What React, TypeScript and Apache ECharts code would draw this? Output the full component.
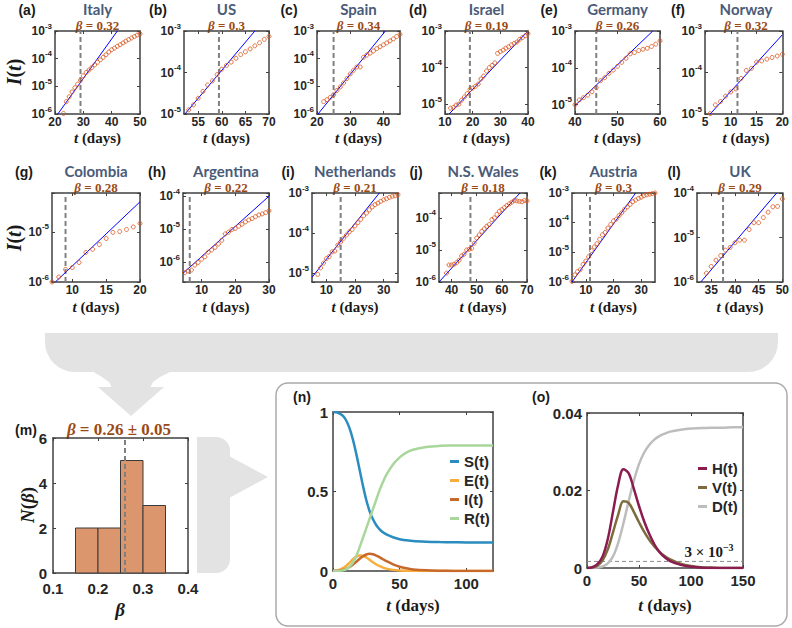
import { useEffect, useRef } from "react";
import * as echarts from "echarts";

// ---------------- country data (t in days, I(t) fraction) ----------------
const italyT = [23, 24, 25, 26, 27, 28, 29, 30, 31, 32, 33, 34, 35, 36, 37, 38, 39, 40, 41, 42, 43, 44, 45, 46, 47, 48, 49, 50];
const italyI = [1.05e-6, 2.8e-6, 4.2e-6, 6.3e-6, 8.9e-6, 1.2e-5, 1.66e-5, 2.4e-5, 3.16e-5, 3.9e-5, 4.8e-5, 6.0e-5, 7.4e-5, 9.1e-5, 1.12e-4, 1.38e-4, 1.74e-4, 2.1e-4, 2.4e-4, 2.8e-4, 3.2e-4, 3.7e-4, 4.3e-4, 4.9e-4, 5.6e-4, 6.3e-4, 7.1e-4, 7.9e-4];
const italyFit = [[21, 1e-6], [42, 1e-3]];

const usT = [53, 54, 55, 56, 57, 58, 59, 60, 61, 62, 63, 64, 65, 66, 67, 68, 69, 70];
const usI = [1.26e-5, 1.66e-5, 2.4e-5, 3.5e-5, 5.0e-5, 6.3e-5, 8.9e-5, 1.2e-4, 1.48e-4, 1.78e-4, 2.2e-4, 2.7e-4, 3.16e-4, 3.7e-4, 4.4e-4, 5.2e-4, 6.3e-4, 7.4e-4];
const usFit = [[52.2, 1e-5], [67, 1e-3]];

const spainT = [22, 23, 24, 25, 26, 27, 28, 29, 30, 31, 32, 33, 34, 35, 36, 37, 38, 39, 40, 41, 42, 43, 44, 45];
const spainI = [2.8e-6, 3.3e-6, 4.0e-6, 5.0e-6, 7.1e-6, 9.5e-6, 1.32e-5, 1.9e-5, 2.8e-5, 3.8e-5, 5.0e-5, 5.0e-5, 1.12e-4, 1.35e-4, 1.58e-4, 1.9e-4, 2.3e-4, 2.7e-4, 3.16e-4, 3.7e-4, 4.4e-4, 5.2e-4, 6.3e-4, 7.6e-4];
const spainFit = [[20.3, 1e-6], [40.6, 1e-3]];

const israelT = [12, 13, 14, 15, 16, 17, 18, 19, 20, 21, 22, 23, 24, 25, 26, 27, 28, 29, 30, 31, 32, 33, 34, 35, 36, 37, 38, 39, 40];
const israelI = [7.8e-6, 8.1e-6, 9.5e-6, 1.0e-5, 1.29e-5, 1.58e-5, 1.95e-5, 2.5e-5, 2.75e-5, 3.1e-5, 3.55e-5, 4.9e-5, 5.9e-5, 8.1e-5, 1.0e-4, 1.15e-4, 1.35e-4, 2.45e-4, 2.75e-4, 3.0e-4, 3.4e-4, 3.7e-4, 4.2e-4, 4.6e-4, 5.0e-4, 5.9e-4, 6.6e-4, 7.4e-4, 8.5e-4];
const israelFit = [[11.5, 5.4e-6], [40, 1e-3]];

const germanyT = [40, 41, 42, 43, 44, 45, 46, 47, 48, 49, 50, 51, 52, 53, 54, 55, 56, 57, 58, 59, 60];
const germanyI = [1.0e-5, 1.35e-5, 1.55e-5, 1.82e-5, 2.24e-5, 2.9e-5, 4.5e-5, 5.4e-5, 7.1e-5, 8.7e-5, 1.1e-4, 1.41e-4, 1.82e-4, 2.4e-4, 2.6e-4, 2.95e-4, 3.2e-4, 3.4e-4, 3.8e-4, 4.4e-4, 5.4e-4];
const germanyFit = [[40, 9.5e-6], [58.3, 1e-3]];

const norwayT = [6, 7, 8, 9, 10, 11, 12, 13, 14, 15, 16, 17, 18, 19, 20];
const norwayI = [1.02e-5, 1.66e-5, 2.0e-5, 2.7e-5, 3.4e-5, 4.0e-5, 7.2e-5, 1.12e-4, 1.26e-4, 1.78e-4, 1.9e-4, 2.1e-4, 2.3e-4, 2.5e-4, 2.75e-4];
const norwayFit = [[6, 1e-5], [20, 8.1e-4]];

const colombiaT = [7, 8, 9, 10, 11, 12, 13, 14, 15, 16, 17, 18, 19, 20];
const colombiaI = [1.0e-6, 1.26e-6, 1.78e-6, 1.95e-6, 2.45e-6, 3.9e-6, 4.5e-6, 5.6e-6, 7.4e-6, 9.8e-6, 1.02e-5, 1.12e-5, 1.26e-5, 1.48e-5];
const colombiaFit = [[7.5, 1e-6], [20, 4e-5]];

const argentinaT = [5, 6, 7, 8, 9, 10, 11, 12, 13, 14, 15, 16, 17, 18, 19, 20, 21, 22, 23, 24, 25, 26, 27, 28, 29, 30];
const argentinaI = [4.8e-7, 5.4e-7, 5.75e-7, 8.1e-7, 9.8e-7, 1.23e-6, 1.45e-6, 2.0e-6, 2.35e-6, 2.8e-6, 3.55e-6, 4.6e-6, 7.2e-6, 8.1e-6, 9.8e-6, 1.05e-5, 1.23e-5, 1.41e-5, 1.66e-5, 1.9e-5, 2.1e-5, 2.4e-5, 2.7e-5, 2.9e-5, 3.16e-5, 3.6e-5];
const argentinaFit = [[4.5, 4.6e-7], [30, 1.0e-4]];

const netherlandsT = [7, 8, 9, 10, 11, 12, 13, 14, 15, 16, 17, 18, 19, 20, 21, 22, 23, 24, 25, 26, 27, 28, 29, 30, 31, 32, 33, 34, 35];
const netherlandsI = [9.3e-6, 1.35e-5, 1.78e-5, 2.3e-5, 2.6e-5, 3.4e-5, 3.55e-5, 5.0e-5, 6.0e-5, 7.4e-5, 8.9e-5, 1.07e-4, 1.23e-4, 1.51e-4, 1.82e-4, 2.2e-4, 2.7e-4, 3.16e-4, 3.8e-4, 4.5e-4, 5.1e-4, 5.6e-4, 6.2e-4, 6.8e-4, 7.2e-4, 7.8e-4, 8.3e-4, 8.5e-4, 9.1e-4];
const netherlandsFit = [[5, 7.9e-6], [28.5, 1e-3]];

const nswT = [38, 39, 40, 41, 42, 43, 44, 45, 46, 47, 48, 49, 50, 51, 52, 53, 54, 55, 56, 57, 58, 59, 60, 61, 62, 63, 64, 65, 66, 67, 68, 69, 70];
const nswI = [1.9e-6, 3.4e-6, 3.4e-6, 3.6e-6, 4.0e-6, 4.8e-6, 6.5e-6, 7.4e-6, 1.0e-5, 1.05e-5, 1.12e-5, 1.62e-5, 2.35e-5, 2.95e-5, 3.8e-5, 4.6e-5, 5.5e-5, 6.2e-5, 8.9e-5, 1.0e-4, 1.29e-4, 1.62e-4, 1.82e-4, 2.1e-4, 2.45e-4, 2.75e-4, 3.1e-4, 3.55e-4, 3.4e-4, 3.3e-4, 3.2e-4, 3.5e-4, 3.4e-4];
const nswFit = [[35, 1e-6], [67.2, 6e-4]];

const austriaT = [5, 6, 7, 8, 9, 10, 11, 12, 13, 14, 15, 16, 17, 18, 19, 20, 21, 22, 23, 24, 25, 26, 27, 28, 29, 30, 31, 32, 33, 34, 35];
const austriaI = [1.05e-6, 1.74e-6, 2.24e-6, 2.6e-6, 3.9e-6, 5.1e-6, 7.1e-6, 1.15e-5, 1.51e-5, 1.95e-5, 2.75e-5, 3.9e-5, 4.7e-5, 6.6e-5, 8.7e-5, 1.15e-4, 1.32e-4, 1.74e-4, 2.15e-4, 2.8e-4, 3.4e-4, 4.1e-4, 5.1e-4, 5.75e-4, 6.6e-4, 7.2e-4, 8.1e-4, 8.7e-4, 9.1e-4, 9.5e-4, 1.0e-3];
const austriaFit = [[5, 1e-6], [28, 1e-3]];

const ukT = [34, 35, 36, 37, 38, 39, 40, 41, 42, 43, 44, 45, 46, 47, 48, 49, 50];
const ukI = [1.58e-6, 2.24e-6, 3.1e-6, 3.9e-6, 5.2e-6, 6.0e-6, 7.6e-6, 8.7e-6, 8.7e-6, 1.51e-5, 2.15e-5, 2.15e-5, 2.8e-5, 3.7e-5, 4.9e-5, 5.0e-5, 7.4e-5];
const ukFit = [[32.8, 1e-6], [48.8, 1e-4]];

const countries = [
  { tag: "(a)", name: "Italy", beta: "0.32", t: italyT, I: italyI, fit: italyFit, dash: 29, xRange: [20, 50], xTicks: [20, 30, 40, 50], yRange: [1e-6, 1e-3] },
  { tag: "(b)", name: "US", beta: "0.3", t: usT, I: usI, fit: usFit, dash: 59.4, xRange: [52, 70], xTicks: [55, 60, 65, 70], yRange: [1e-5, 1e-3] },
  { tag: "(c)", name: "Spain", beta: "0.34", t: spainT, I: spainI, fit: spainFit, dash: 25, xRange: [20, 45], xTicks: [20, 30, 40], yRange: [1e-6, 1e-3] },
  { tag: "(d)", name: "Israel", beta: "0.19", t: israelT, I: israelI, fit: israelFit, dash: 19, xRange: [10, 40], xTicks: [10, 20, 30, 40], yRange: [5.4e-6, 1e-3] },
  { tag: "(e)", name: "Germany", beta: "0.26", t: germanyT, I: germanyI, fit: germanyFit, dash: 45, xRange: [40, 60], xTicks: [40, 50, 60], yRange: [5.6e-6, 1e-3] },
  { tag: "(f)", name: "Norway", beta: "0.32", t: norwayT, I: norwayI, fit: norwayFit, dash: 11.3, xRange: [5, 20], xTicks: [5, 10, 15, 20], yRange: [1e-5, 1e-3] },
  { tag: "(g)", name: "Colombia", beta: "0.28", t: colombiaT, I: colombiaI, fit: colombiaFit, dash: 9, xRange: [7, 20], xTicks: [10, 15, 20], yRange: [1e-6, 6e-5] },
  { tag: "(h)", name: "Argentina", beta: "0.22", t: argentinaT, I: argentinaI, fit: argentinaFit, dash: 6.5, xRange: [4.5, 30], xTicks: [10, 20, 30], yRange: [2.5e-7, 1.25e-4] },
  { tag: "(i)", name: "Netherlands", beta: "0.21", t: netherlandsT, I: netherlandsI, fit: netherlandsFit, dash: 15, xRange: [5, 35], xTicks: [10, 20, 30], yRange: [6e-6, 1e-3] },
  { tag: "(j)", name: "N.S. Wales", beta: "0.18", t: nswT, I: nswI, fit: nswFit, dash: 47.5, xRange: [35, 70], xTicks: [40, 50, 60, 70], yRange: [1e-6, 6e-4] },
  { tag: "(k)", name: "Austria", beta: "0.3", t: austriaT, I: austriaI, fit: austriaFit, dash: 11.5, xRange: [5, 35], xTicks: [10, 20, 30], yRange: [1e-6, 1e-3] },
  { tag: "(l)", name: "UK", beta: "0.29", t: ukT, I: ukI, fit: ukFit, dash: 37.5, xRange: [32, 50], xTicks: [35, 40, 45, 50], yRange: [1e-6, 1e-4] },
];

// ---------------- histogram of beta ----------------
const histLo = [0.15, 0.2, 0.25, 0.3];
const histHi = [0.2, 0.25, 0.3, 0.35];
const histN = [2, 2, 5, 3];
const betaMean = 0.26;
const betaMeanText = "0.26 ± 0.05";
const histXTicks = [0.1, 0.2, 0.3, 0.4];
const histYTicks = [0, 2, 4, 6];

// ---------------- model curves (n) ----------------
const seirT = [0, 2.5, 5, 7.5, 10, 12.5, 15, 17.5, 20, 22.5, 25, 27.5, 30, 32.5, 35, 37.5, 40, 45, 50, 55, 60, 70, 80, 90, 100, 110, 120];
const seirS = [1, 0.998, 0.99, 0.975, 0.945, 0.895, 0.825, 0.735, 0.635, 0.535, 0.445, 0.375, 0.325, 0.288, 0.262, 0.243, 0.23, 0.212, 0.2, 0.193, 0.188, 0.184, 0.182, 0.181, 0.18, 0.18, 0.18];
const seirE = [0, 0.003, 0.008, 0.018, 0.033, 0.053, 0.074, 0.09, 0.098, 0.096, 0.085, 0.07, 0.055, 0.041, 0.03, 0.021, 0.015, 0.007, 0.003, 0.0015, 0.0007, 0.0001, 0, 0, 0, 0, 0];
const seirI = [0, 0.001, 0.003, 0.007, 0.014, 0.025, 0.04, 0.058, 0.077, 0.093, 0.104, 0.108, 0.105, 0.097, 0.086, 0.074, 0.062, 0.042, 0.027, 0.017, 0.01, 0.004, 0.0015, 0.0005, 0.0002, 0.0001, 0];
const seirR = [0, 0, 0.001, 0.004, 0.012, 0.028, 0.055, 0.095, 0.15, 0.21, 0.27, 0.33, 0.39, 0.45, 0.51, 0.56, 0.605, 0.67, 0.715, 0.745, 0.763, 0.78, 0.787, 0.789, 0.79, 0.79, 0.79];
const nXTicks = [0, 50, 100];
const nYTicks = [0, 0.5, 1];

// ---------------- model curves (o) ----------------
const hvdT = [0, 5, 10, 15, 20, 25, 30, 35, 40, 45, 50, 55, 60, 65, 70, 75, 80, 90, 100, 110, 120, 130, 140, 150];
const hvdH = [0, 0.0002, 0.001, 0.003, 0.0075, 0.0145, 0.0215, 0.0255, 0.0245, 0.0205, 0.016, 0.012, 0.0087, 0.006, 0.004, 0.0027, 0.0018, 0.0008, 0.0003, 0.0001, 0, 0, 0, 0];
const hvdV = [0, 0.0001, 0.0006, 0.002, 0.0048, 0.0092, 0.0138, 0.0172, 0.0168, 0.0145, 0.0118, 0.0093, 0.0072, 0.0055, 0.0041, 0.003, 0.0022, 0.0011, 0.0005, 0.0002, 0.0001, 0, 0, 0];
const hvdD = [0, 0, 0.0001, 0.0004, 0.0012, 0.003, 0.0065, 0.0115, 0.0172, 0.0225, 0.0268, 0.0298, 0.0318, 0.0332, 0.0341, 0.0347, 0.0352, 0.0357, 0.036, 0.0361, 0.0362, 0.0362, 0.0363, 0.0363];
const hvdThreshold = 0.0017;
const oXTicks = [0, 50, 100, 150];
const oYTicks = [0, 0.02, 0.04];

// ---------------- layout / style ----------------
const ROW_TOP = [31, 193];
const ROW_H = [83, 89];
const COL_LR = [
  [[55, 140], [184, 269], [317, 400], [445, 528], [575, 660], [705, 787]],
  [[52, 140], [183, 269], [312, 398], [439, 527], [572, 655], [697, 783]],
];
const TAG_X = [[27, 158, 289, 418, 549, 678], [24, 157, 288, 416, 548, 674]];
const TAG_Y = [10, 172];
const TITLE_Y = [9, 171];
const BETA_Y = [25, 187];
const XLABEL_Y = [138, 307];
const YLABEL_Y = [72, 238];

const SANS = "'Liberation Sans', Arial, sans-serif";
const SERIF = "'Liberation Serif', 'Times New Roman', serif";
const TITLE_FONT = "Lato, 'Open Sans', sans-serif";
const AX = "#404040";
const LABEL = "#262626";
const BROWN = "#9A4A14";
const SLATE = "#4A5B78";
const ORANGE = "#D95319";
const GRAYFILL = "#e3e3e3";

function buildOption() {
  const grid: any[] = [];
  const xAxis: any[] = [];
  const yAxis: any[] = [];
  const series: any[] = [];
  const g: any[] = [];

  const axisLine = { show: true, onZero: false, lineStyle: { color: AX, width: 1.5 } };
  const tickStyle = { color: AX, width: 1 };

  const addLinear = (dir: string, gi: number, min: number, max: number, ticks: number[], fontSize: number, margin: number, fmt?: any) => {
    const arr = dir === "x" ? xAxis : yAxis;
    const idx = arr.length;
    const base = {
      gridIndex: gi, type: "value", min, max, splitLine: { show: false }, axisLine,
      axisTick: { show: true, inside: true, length: 3, customValues: ticks, lineStyle: tickStyle },
    };
    const label: any = { show: true, customValues: ticks, margin, fontSize, fontFamily: SANS, fontWeight: "bold", color: LABEL };
    if (fmt) label.formatter = fmt;
    arr.push({ ...base, position: dir === "x" ? "bottom" : "left", axisLabel: label });
    arr.push({ ...base, position: dir === "x" ? "top" : "right", axisLabel: { show: false } });
    return idx;
  };

  const logFmt = (v: number) => {
    const e = Math.log10(v);
    const r = Math.round(e);
    return Math.abs(e - r) < 1e-6 ? `{b|10}{s|${r}}` : "";
  };
  const supRich = {
    b: { fontSize: 12, fontWeight: "bold", fontFamily: SANS, color: LABEL, lineHeight: 18 },
    s: { fontSize: 8, fontWeight: "bold", fontFamily: SANS, color: LABEL, verticalAlign: "top" },
  };
  const addLog = (gi: number, min: number, max: number) => {
    const idx = yAxis.length;
    const base = {
      gridIndex: gi, type: "log", logBase: 10, min, max, splitLine: { show: false },
      minorTick: { show: false }, minorSplitLine: { show: false }, axisLine,
      axisTick: { show: true, inside: true, length: 3, lineStyle: tickStyle },
    };
    yAxis.push({ ...base, position: "left", axisLabel: { show: true, margin: 3, formatter: logFmt, rich: supRich } });
    yAxis.push({ ...base, position: "right", axisLabel: { show: false } });
    return idx;
  };

  const text = (x: number, y: number, t: string, style: any, extra: any = {}) => ({
    type: "text", x, y, silent: true, ...extra,
    style: { text: t, align: "center", verticalAlign: "middle", ...style },
  });
  const serifRich = (size: number, fill: string) => ({
    i: { fontFamily: SERIF, fontWeight: "bold", fontStyle: "italic", fontSize: size, fill },
    n: { fontFamily: SERIF, fontWeight: "bold", fontSize: size, fill },
  });

  // ---- background decorations ----
  g.push({ type: "rect", z: -10, silent: true, shape: { x: 45, y: 333, width: 733, height: 39, r: [0, 0, 30, 30] }, style: { fill: GRAYFILL } });
  g.push({ type: "polygon", z: -10, silent: true, shape: { points: [[92, 371], [172, 371], [160, 377], [153, 382], [150, 388], [112, 388], [109, 382], [102, 377]] }, style: { fill: GRAYFILL } });
  g.push({ type: "polygon", z: -10, silent: true, shape: { points: [[98, 387], [164, 387], [131, 416]] }, style: { fill: GRAYFILL } });
  g.push({ type: "rect", z: -10, silent: true, shape: { x: 197, y: 437, width: 33, height: 136, r: [0, 14, 14, 0] }, style: { fill: GRAYFILL } });
  g.push({ type: "polygon", z: -10, silent: true, shape: { points: [[229, 456], [268, 477], [229, 498]] }, style: { fill: GRAYFILL } });
  g.push({ type: "rect", z: -10, silent: true, shape: { x: 276, y: 383, width: 511, height: 243, r: 12 }, style: { fill: "none", stroke: "#aaaaaa", lineWidth: 1.5 } });

  // ---- country panels ----
  countries.forEach((c, k) => {
    const row = k < 6 ? 0 : 1;
    const col = k % 6;
    const [l, r] = COL_LR[row][col];
    const top = ROW_TOP[row];
    const h = ROW_H[row];
    const gi = grid.length;
    grid.push({ left: l, top, width: r - l, height: h, containLabel: false });
    const xi = addLinear("x", gi, c.xRange[0], c.xRange[1], c.xTicks, 12, 2);
    const yi = addLog(gi, c.yRange[0], c.yRange[1]);
    series.push({
      type: "line", xAxisIndex: xi, yAxisIndex: yi, data: [[c.dash, c.yRange[0]], [c.dash, c.yRange[1]]],
      symbol: "none", silent: true, lineStyle: { color: "#808080", width: 2, type: [5, 3] }, z: 2,
    });
    series.push({
      type: "line", xAxisIndex: xi, yAxisIndex: yi, data: c.fit, symbol: "none", silent: true,
      lineStyle: { color: "#0000ff", width: 1 }, z: 3, clip: true,
    });
    series.push({
      type: "scatter", xAxisIndex: xi, yAxisIndex: yi, data: c.t.map((t, i) => [t, c.I[i]]),
      symbol: "circle", symbolSize: 4, silent: true, z: 4,
      itemStyle: { color: "rgba(255,255,255,0)", borderColor: ORANGE, borderWidth: 1 },
    });
    const cx = (l + r) / 2;
    g.push(text(TAG_X[row][col], TAG_Y[row], c.tag, { fontFamily: SANS, fontWeight: "bold", fontSize: 14, fill: "#1a1a1a" }));
    g.push(text(cx, TITLE_Y[row], c.name, { fontFamily: TITLE_FONT, fontWeight: "bold", fontSize: 15, fill: SLATE }));
    g.push(text(cx, BETA_Y[row], `{i|β}{n| = ${c.beta}}`, { rich: serifRich(13, BROWN) }));
    g.push(text(cx, XLABEL_Y[row], "{i|t}{n| (days)}", { rich: serifRich(15, "#1a1a1a") }));
    if (col === 0) {
      g.push(text(14, YLABEL_Y[row], "{i|I}{n|(}{i|t}{n|)}", { rich: serifRich(20, "#1a1a1a") }, { rotation: Math.PI / 2 }));
    }
  });

  // ---- (m) histogram ----
  const mg = grid.length;
  grid.push({ left: 53, top: 438, width: 135, height: 135, containLabel: false });
  const mx = addLinear("x", mg, 0.1, 0.4, histXTicks, 15, 8, (v: number) => v.toFixed(1));
  const my = addLinear("y", mg, 0, 6, histYTicks, 15, 6);
  series.push({
    type: "custom", xAxisIndex: mx, yAxisIndex: my, silent: true,
    data: histLo.map((lo, i) => [lo, histHi[i], histN[i]]),
    encode: { x: [0, 1], y: 2 },
    renderItem: (_p: any, api: any) => {
      const p0 = api.coord([api.value(0), 0]);
      const p1 = api.coord([api.value(1), api.value(2)]);
      return {
        type: "rect",
        shape: { x: p0[0], y: p1[1], width: p1[0] - p0[0], height: p0[1] - p1[1] },
        style: { fill: "#DC966E", stroke: "#3a3a3a", lineWidth: 1 },
      };
    },
    z: 2,
  });
  series.push({
    type: "line", xAxisIndex: mx, yAxisIndex: my, data: [[betaMean, 0], [betaMean, 6]], symbol: "none", silent: true,
    lineStyle: { color: "#808080", width: 2, type: [5, 3] }, z: 3,
  });
  g.push(text(26, 430, "(m)", { fontFamily: SANS, fontWeight: "bold", fontSize: 14, fill: "#1a1a1a" }));
  g.push(text(119, 429, `{i|β}{n| = ${betaMeanText}}`, { rich: serifRich(17, BROWN) }));
  g.push(text(27, 505, "{i|N}{n|(}{i|β}{n|)}", { rich: serifRich(19, "#1a1a1a") }, { rotation: Math.PI / 2 }));
  g.push(text(120, 609, "{i|β}", { rich: serifRich(19, "#1a1a1a") }));

  // ---- (n) S E I R ----
  const ng = grid.length;
  grid.push({ left: 333, top: 412, width: 160, height: 159, containLabel: false });
  const nx = addLinear("x", ng, 0, 120, nXTicks, 15, 5);
  const ny = addLinear("y", ng, 0, 1, nYTicks, 15, 5);
  const seirList: any[] = [["S(t)", seirS, "#2A8CBF"], ["E(t)", seirE, "#F8AE3C"], ["I(t)", seirI, "#C8692C"], ["R(t)", seirR, "#A9D79B"]];
  seirList.forEach(([name, vals, color]) => {
    series.push({
      type: "line", name, xAxisIndex: nx, yAxisIndex: ny, data: seirT.map((t, i) => [t, vals[i]]),
      symbol: "none", smooth: 0.35, silent: true, lineStyle: { color, width: 2.5 }, itemStyle: { color }, z: 3,
    });
  });
  g.push(text(302, 397, "(n)", { fontFamily: SANS, fontWeight: "bold", fontSize: 14, fill: "#1a1a1a" }));
  g.push(text(413, 605, "{i|t}{n| (days)}", { rich: serifRich(17, "#1a1a1a") }));

  // ---- (o) H V D ----
  const og = grid.length;
  grid.push({ left: 587, top: 413, width: 156, height: 155, containLabel: false });
  const ox = addLinear("x", og, 0, 150, oXTicks, 15, 5);
  const oy = addLinear("y", og, 0, 0.04, oYTicks, 15, 5);
  series.push({
    type: "line", xAxisIndex: ox, yAxisIndex: oy, data: [[0, hvdThreshold], [150, hvdThreshold]], symbol: "none", silent: true,
    lineStyle: { color: "#8a8a8a", width: 1, type: [4, 3] }, z: 2,
  });
  const hvdList: any[] = [["D(t)", hvdD, "#BDBDBD"], ["V(t)", hvdV, "#7B6B3D"], ["H(t)", hvdH, "#8A1C50"]];
  hvdList.forEach(([name, vals, color]) => {
    series.push({
      type: "line", name, xAxisIndex: ox, yAxisIndex: oy, data: hvdT.map((t, i) => [t, vals[i]]),
      symbol: "none", smooth: 0.35, silent: true, lineStyle: { color, width: 2.5 }, itemStyle: { color }, z: 3,
    });
  });
  g.push(text(541, 397, "(o)", { fontFamily: SANS, fontWeight: "bold", fontSize: 14, fill: "#1a1a1a" }));
  g.push(text(665, 605, "{i|t}{n| (days)}", { rich: serifRich(17, "#1a1a1a") }));
  g.push(text(709, 552, "{n|3 × 10}{s|−3}", {
    rich: {
      n: { fontFamily: SERIF, fontWeight: "bold", fontSize: 15, fill: "#1a1a1a", lineHeight: 20 },
      s: { fontFamily: SERIF, fontWeight: "bold", fontSize: 10, fill: "#1a1a1a", verticalAlign: "top" },
    },
  }));

  const legendText = { fontSize: 15, fontWeight: "bold", fontFamily: SANS, color: LABEL };
  const legend = [
    { data: ["S(t)", "E(t)", "I(t)", "R(t)"], orient: "vertical", left: 450, top: 454, padding: 0, icon: "rect", itemWidth: 9, itemHeight: 3, itemGap: 4, selectedMode: false, textStyle: legendText },
    { data: ["H(t)", "V(t)", "D(t)"], orient: "vertical", left: 698, top: 461, padding: 0, icon: "rect", itemWidth: 9, itemHeight: 3, itemGap: 4, selectedMode: false, textStyle: legendText },
  ];

  return {
    animation: false,
    backgroundColor: "#ffffff",
    textStyle: { fontFamily: SANS },
    grid, xAxis, yAxis, series, legend,
    graphic: { elements: g },
  };
}

export default function App() {
  const ref = useRef<HTMLDivElement>(null);
  useEffect(() => {
    const chart = echarts.init(ref.current as HTMLDivElement, null, { renderer: "svg" });
    chart.setOption(buildOption() as any);
    return () => chart.dispose();
  }, []);
  return <div ref={ref} style={{ position: "absolute", left: 0, top: 0, width: 792, height: 628, background: "#fff" }} />;
}
